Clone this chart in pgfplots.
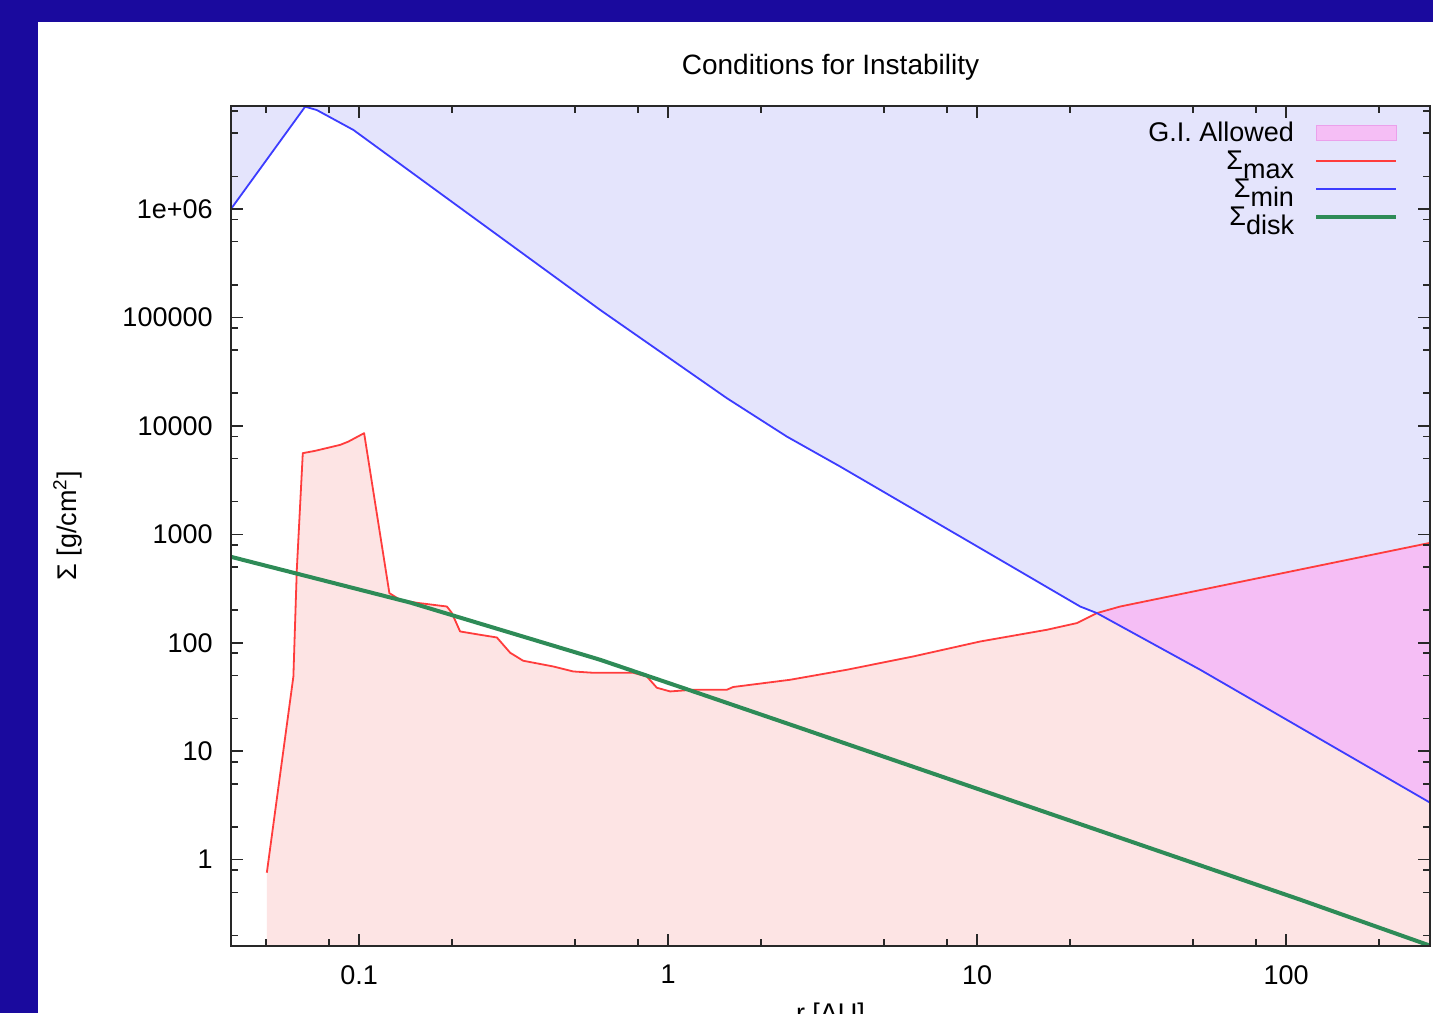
\documentclass[border=0pt]{standalone}
\usepackage{fontspec}
\setmainfont{Liberation Sans}
\usepackage{pgfplots}
\pgfplotsset{compat=1.18}
\definecolor{bgblue}{RGB}{26,10,158}
\definecolor{smaxred}{RGB}{255,60,60}
\definecolor{sminblue}{RGB}{60,60,255}
\definecolor{sdiskgreen}{RGB}{46,139,87}
\definecolor{lavfill}{RGB}{228,228,252}
\definecolor{pinkfill}{RGB}{253,228,228}
\definecolor{gifill}{RGB}{245,190,245}
\definecolor{giedge}{RGB}{235,160,235}
\definecolor{axgray}{RGB}{40,40,40}
\begin{document}
\begin{tikzpicture}[font=\fontsize{13.5}{16}\selectfont]
\begin{scope}
\clip (-115.5pt,-33.5pt) rectangle (601pt,473pt);
\fill[bgblue] (-115.5pt,-33.5pt) rectangle (601pt,473pt);
\fill[white] (-96.5pt,-33.5pt) rectangle (601pt,462pt);
\begin{axis}[
  at={(0pt,0pt)}, anchor=south west,
  scale only axis, width=599.5pt, height=420pt,
  axis on top,
  xmode=log, ymode=log,
  xmin=0.0385, xmax=292, ymin=0.16, ymax=8.9e6,
  axis line style={axgray, line width=1pt},
  every tick/.style={axgray, line width=0.8pt},
  tick align=inside,
  major tick length=6pt, minor tick length=3.5pt,
  xtick={0.1,1,10,100}, xticklabels={0.1,1,10,100},
  minor xtick={0.05,0.08,0.2,0.5,0.8,2,5,8,20,50,80,200},
  ytick={1,10,100,1000,10000,100000,1000000},
  yticklabels={1,10,100,1000,10000,100000,1e+06},
  minor ytick={0.2,0.5,0.8,2,5,8,20,50,80,200,500,800,2000,5000,8000,20000,50000,80000,200000,500000,800000,2000000,5000000,8000000},
  xticklabel style={inner sep=0pt, anchor=north, yshift=-9.5pt},
  yticklabel style={inner sep=0pt, anchor=east, xshift=-9pt},
  title={Conditions for Instability},
  title style={at={(0.5,1)}, anchor=base, yshift=9.5pt, inner sep=0pt, font=\fontsize{14}{16}\selectfont},
  xlabel={r [AU]},
  xlabel style={at={(axis description cs:0.5,0)}, anchor=north, yshift=-28.5pt, inner sep=0pt},
  ylabel={Σ [g/cm\textsuperscript{2}]},
  ylabel style={at={(axis description cs:-0.136,0.5)}, anchor=center, inner sep=0pt},
  legend plot pos=right,
  legend cell align=right,
  legend style={draw=none, fill=none, inner sep=0pt, outer sep=0pt,
    at={(axis description cs:1,1)}, anchor=north east, xshift=-16pt, yshift=-9pt,
    row sep=5pt, column sep=10pt,
    nodes={inner sep=0pt, text height=9pt, text depth=0pt}},
  legend image code/.code={\draw[#1] (0pt,0pt) -- (40pt,0pt);},
]
% region above Sigma_min
\addplot[fill=lavfill, draw=none, forget plot] coordinates {
(0.0385,1.0e6) (0.06688,8.77e6) (0.07295,8.17e6) (0.09585,5.35e6) (0.1829,1.396e6)
(0.6025,1.173e5) (1.549,1.80e4) (2.422,7967) (3.603,4217) (11.87,582) (21.54,216)
(24.4,187.8) (52.7,56.4) (292.4,3.35) (292.4,1e8) (0.0385,1e8)} -- cycle;
% region below Sigma_max
\addplot[fill=pinkfill, draw=none, forget plot] coordinates {
(0.05028,0.1) (0.05028,0.759) (0.06128,48.9) (0.06286,470.8) (0.06573,5603) (0.07203,5884)
(0.08683,6681) (0.09234,7166) (0.1038,8564) (0.1253,287) (0.1357,249) (0.1537,233.7)
(0.1923,216) (0.1995,189) (0.2122,127.2) (0.2464,118.5) (0.2791,111.9) (0.3082,80.9)
(0.3395,68.3) (0.4245,60.5) (0.4927,54.4) (0.5718,52.9) (0.7706,52.9) (0.8533,48.9)
(0.9192,38.5) (1.015,35.6) (1.205,36.9) (1.549,36.9) (1.623,39.1) (2.482,45.6)
(3.787,56.4) (6.209,74.8) (10.23,102.8) (16.81,131.8) (21.02,151.9) (24.4,187.8)
(29.03,216) (292.4,835) (292.4,0.1)} -- cycle;
% G.I. allowed
\addplot[fill=gifill, draw=none,
  legend image code/.code={\draw[fill=gifill, draw=giedge] (0pt,-3.75pt) rectangle (40pt,3.75pt);}]
  coordinates {(24.4,187.8) (29.03,216) (292.4,835) (292.4,3.35) (52.7,56.4) (24.4,187.8)} -- cycle;
\addlegendentry{G.I. Allowed}
% Sigma_max
\addplot[smaxred, line width=0.9pt, line join=round] coordinates {
(0.05028,0.759) (0.06128,48.9) (0.06286,470.8) (0.06573,5603) (0.07203,5884)
(0.08683,6681) (0.09234,7166) (0.1038,8564) (0.1253,287) (0.1357,249) (0.1537,233.7)
(0.1923,216) (0.1995,189) (0.2122,127.2) (0.2464,118.5) (0.2791,111.9) (0.3082,80.9)
(0.3395,68.3) (0.4245,60.5) (0.4927,54.4) (0.5718,52.9) (0.7706,52.9) (0.8533,48.9)
(0.9192,38.5) (1.015,35.6) (1.205,36.9) (1.549,36.9) (1.623,39.1) (2.482,45.6)
(3.787,56.4) (6.209,74.8) (10.23,102.8) (16.81,131.8) (21.02,151.9) (24.4,187.8)
(29.03,216) (292.4,835)};
\addlegendentry{Σ\raisebox{-4.5pt}{max}}
% Sigma_min
\addplot[sminblue, line width=0.9pt, line join=round] coordinates {
(0.0385,1.0e6) (0.06688,8.77e6) (0.07295,8.17e6) (0.09585,5.35e6) (0.1829,1.396e6)
(0.6025,1.173e5) (1.549,1.80e4) (2.422,7967) (3.603,4217) (11.87,582) (21.54,216)
(24.4,187.8) (52.7,56.4) (292.4,3.35)};
\addlegendentry{Σ\raisebox{-4.5pt}{min}}
% Sigma_disk
\addplot[sdiskgreen, line width=2pt, line join=round] coordinates {
(0.03853,620) (0.1462,235) (0.6025,69.7) (1.269,33.9) (2.674,16.4) (111,0.428) (292.4,0.161)};
\addlegendentry{Σ\raisebox{-4.5pt}{disk}}
\end{axis}
\end{scope}
\pgfresetboundingbox
\useasboundingbox (-115.5pt,-33.5pt) rectangle (601pt,473pt);
\end{tikzpicture}
\end{document}
